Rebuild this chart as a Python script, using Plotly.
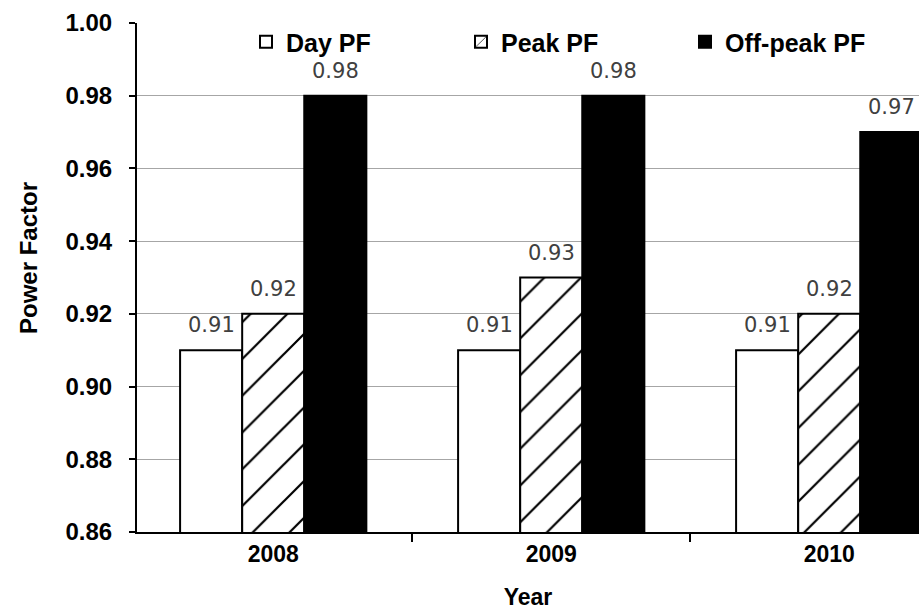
import plotly.graph_objects as go

years = ["2008", "2009", "2010"]
day_pf = [0.91, 0.91, 0.91]
peak_pf = [0.92, 0.93, 0.92]
offpeak_pf = [0.98, 0.98, 0.97]
series_names = ["Day PF", "Peak PF", "Off-peak PF"]
y_ticks = [0.86, 0.88, 0.90, 0.92, 0.94, 0.96, 0.98, 1.00]

BOLD = "Liberation Sans, Arial, sans-serif"
LBL = "DejaVu Sans, Verdana, sans-serif"

L, R, T, B = 137, 0, 23, 78
W, H = 919, 610
cat_px = 278.0
plot_w = W - L - R
plot_h = H - T - B
x0 = -0.49
x1 = x0 + plot_w / cat_px
bargap = 0.33
bar_px = cat_px * (1 - bargap) / 3

fig = go.Figure()
fig.add_trace(go.Bar(
    x=years, y=day_pf, name=series_names[0], legend="legend",
    marker=dict(color="white", line=dict(color="black", width=2)),
))
fig.add_trace(go.Bar(
    x=years, y=peak_pf, name=series_names[1], legend="legend2",
    marker=dict(color="white", line=dict(color="black", width=2),
                pattern=dict(shape="/", fgcolor="black", bgcolor="white",
                             fgopacity=1, size=26, solidity=0.085)),
))
fig.add_trace(go.Bar(
    x=years, y=offpeak_pf, name=series_names[2], legend="legend3",
    marker=dict(color="black", line=dict(color="black", width=2)),
))

# value labels above bars
for i, series in enumerate([day_pf, peak_pf, offpeak_pf]):
    for k, v in enumerate(series):
        fig.add_annotation(
            x=k, y=v, xref="x", yref="y", text=f"{v:.2f}",
            showarrow=False, xshift=(i - 1) * bar_px, yshift=11,
            yanchor="bottom", xanchor="center",
            font=dict(family=LBL, size=21, color="#404040"),
        )

def px_x(px):
    return (px - L) / plot_w
def px_y(py):
    return 1 - (py - T) / plot_h

# y-axis title (placed as in the reference, slightly above plot centre)
fig.add_annotation(
    x=px_x(28), y=px_y(258), xref="paper", yref="paper",
    text="Power Factor", textangle=-90, showarrow=False,
    xanchor="center", yanchor="middle",
    font=dict(family=BOLD, size=24, color="black", weight="bold"),
)

leg_common = dict(orientation="h", yanchor="middle", xanchor="left",
                  bgcolor="rgba(0,0,0,0)", borderwidth=0,
                  font=dict(family=BOLD, size=25, color="black", weight="bold"))
ly = px_y(42)

fig.update_layout(
    width=W, height=H,
    margin=dict(l=L, r=R, t=T, b=B, pad=0),
    paper_bgcolor="white", plot_bgcolor="white",
    barmode="group", bargap=bargap, bargroupgap=0,
    showlegend=True,
    legend=dict(x=px_x(246), y=ly, **leg_common),
    legend2=dict(x=px_x(461), y=ly, **leg_common),
    legend3=dict(x=px_x(685), y=ly, **leg_common),
    xaxis=dict(
        type="category", range=[x0, x1],
        showline=True, linecolor="black", linewidth=2,
        ticks="outside", tickson="boundaries", ticklen=8, tickwidth=2, tickcolor="black",
        tickfont=dict(family=BOLD, size=23, color="black", weight="bold"),
        title=dict(text="Year", font=dict(family=BOLD, size=23, color="black", weight="bold"), standoff=24),
        showgrid=False,
    ),
    yaxis=dict(
        range=[0.86, 1.00], tickvals=y_ticks, ticktext=[f"{t:.2f}" for t in y_ticks],
        showline=True, linecolor="black", linewidth=2,
        ticks="outside", ticklen=6, tickwidth=2, tickcolor="black",
        tickfont=dict(family=BOLD, size=24, color="black", weight="bold"),
        ticklabelstandoff=12,
        showgrid=True, gridcolor="#a6a6a6", gridwidth=1,
        zeroline=False,
    ),
)

fig.write_html("out.html")
